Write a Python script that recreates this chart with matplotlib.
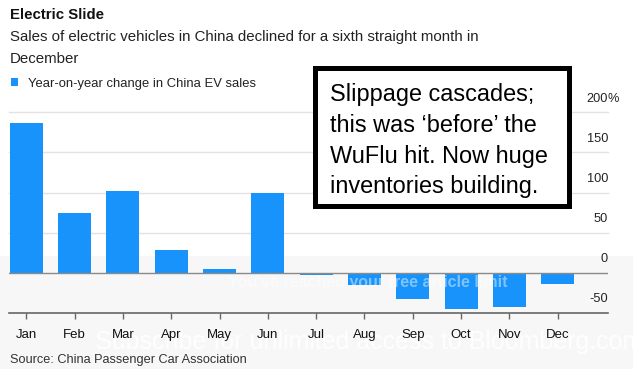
import matplotlib
matplotlib.use("Agg")
import matplotlib.pyplot as plt
from matplotlib.patches import Rectangle
from matplotlib.transforms import blended_transform_factory, offset_copy

plt.rcParams['font.family'] = ['Liberation Sans', 'DejaVu Sans']

months = ['Jan', 'Feb', 'Mar', 'Apr', 'May', 'Jun', 'Jul', 'Aug', 'Sep', 'Oct', 'Nov', 'Dec']
yoy_change = [187, 74, 102, 28, 5, 99, -3, -15, -32, -45, -42, -14]
y_ticks = [-50, 0, 50, 100, 150, 200]
y_tick_labels = ['-50', '0', '50', '100', '150', '200']

title = 'Electric Slide'
subtitle_1 = 'Sales of electric vehicles in China declined for a sixth straight month in'
subtitle_2 = 'December'
legend_label = 'Year-on-year change in China EV sales'
source = 'Source: China Passenger Car Association'
note_lines = ['Slippage cascades;', 'this was \u2018before\u2019 the',
              'WuFlu hit. Now huge', 'inventories building.']

W, H = 633, 369
BLUE = '#1793fb'

fig = plt.figure(figsize=(W / 100, H / 100), dpi=100)
fig.patch.set_facecolor('white')


def fx(px):
    return px / W


def fy(py):
    return 1 - py / H


# paywall grey overlay (behind the chart)
fig.patches.append(Rectangle((0, 0), 1, fy(256), transform=fig.transFigure,
                             facecolor='#f7f7f7', edgecolor='none', zorder=-2))
fig.text(fx(95), fy(342), 'Subscribe for unlimited access to Bloomberg.com',
         fontsize=18, color='white', alpha=0.9, va='center', ha='left',
         zorder=-1)

ax = fig.add_axes([fx(9), fy(313), fx(608) - fx(9), fy(112.3) - fy(313)])
ax.set_facecolor('none')
ax.patch.set_alpha(0)

x = list(range(len(months)))
ax.bar(x, yoy_change, width=0.68, color=BLUE, zorder=3)

ax.set_xlim(-0.358, 12.04)
ax.set_ylim(-50, 200)

for v in y_ticks[2:]:
    ax.axhline(v, color='#e2e2e2', lw=1.0, zorder=1, clip_on=False)
ax.axhline(0, color='#8a8a8a', lw=1.0, zorder=4)

for s in ['top', 'right', 'left']:
    ax.spines[s].set_visible(False)
ax.spines['bottom'].set_color('#666666')
ax.spines['bottom'].set_linewidth(1.2)
ax.spines['bottom'].set_position(('data', -50))

ax.set_xticks(x)
ax.set_xticklabels(months, fontsize=9.5, color='#111111')
ax.tick_params(axis='x', length=4, width=1, color='#666666', pad=7.5)
ax.set_yticks([])

# right-side value labels sitting above gridlines
trans = offset_copy(blended_transform_factory(ax.transAxes, ax.transData),
                    fig=fig, x=0, y=13.5 * 0.72, units='points')
for v, lab in zip(y_ticks, y_tick_labels):
    ax.text(1.0, v, lab, transform=trans, ha='right', va='center',
            fontsize=9.2, color='#222222', clip_on=False)
    if v == 200:
        ax.text(1.0, v, '%', transform=trans, ha='left', va='center',
                fontsize=9.2, color='#222222', clip_on=False)

# paywall banner text (drawn over the bars, semi-transparent)
fig.text(fx(228), fy(282), "You've reached your free article limit",
         fontsize=11.5, fontweight='bold', color='white', alpha=0.45,
         va='center', ha='left', zorder=10)

# titles
fig.text(fx(10), fy(19.3), title, fontsize=10.8, fontweight='bold',
         color='#111111', va='baseline', ha='left')
fig.text(fx(10), fy(41), subtitle_1, fontsize=10.8, color='#222222',
         va='baseline', ha='left')
fig.text(fx(10), fy(63), subtitle_2, fontsize=10.8, color='#222222',
         va='baseline', ha='left')

# legend
fig.patches.append(Rectangle((fx(11), fy(86)), fx(18) - fx(11), fy(78) - fy(86),
                             transform=fig.transFigure, facecolor=BLUE,
                             edgecolor='none'))
fig.text(fx(28), fy(86.5), legend_label, fontsize=9.4, color='#222222',
         va='baseline', ha='left')

# source
fig.text(fx(10), fy(363), source, fontsize=9.2, color='#333333',
         va='baseline', ha='left')

# annotation box
fig.patches.append(Rectangle((fx(314.5), fy(206.2)), fx(568.8) - fx(314.5),
                             fy(67.8) - fy(206.2), transform=fig.transFigure,
                             facecolor='white', edgecolor='black',
                             linewidth=3.6, zorder=20))
for i, line in enumerate(note_lines):
    fig.text(fx(329.7), fy(101.3 + 30.6 * i), line, fontsize=16.9,
             color='black', va='baseline', ha='left', zorder=21)

fig.savefig('out.png', dpi=100, facecolor='white')
